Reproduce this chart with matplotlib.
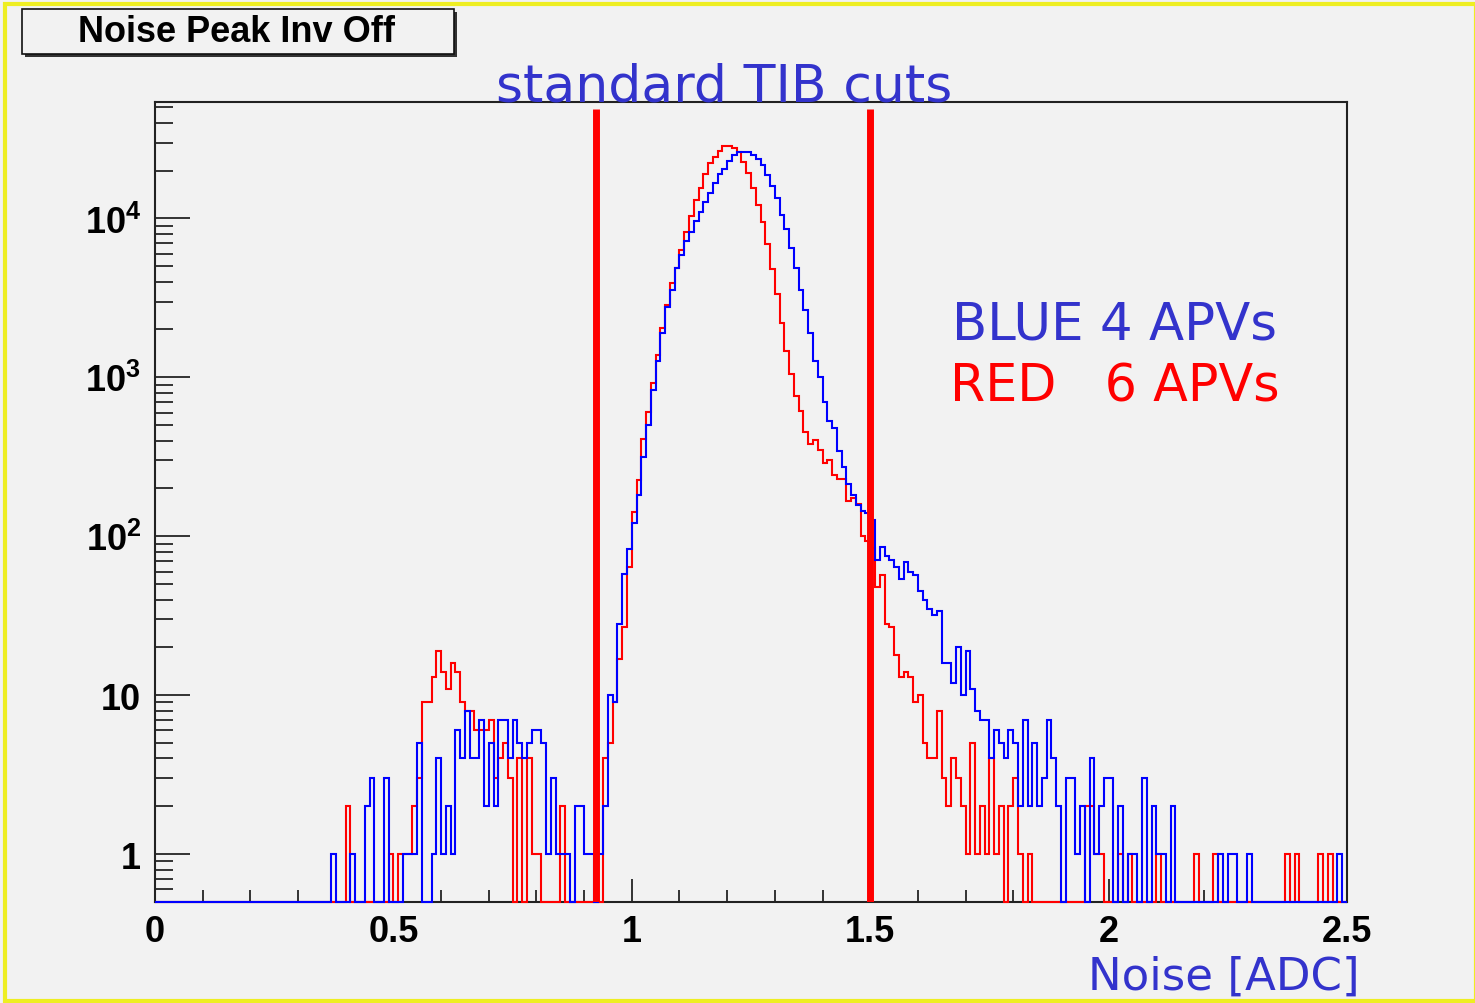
import numpy as np
import matplotlib
matplotlib.use('Agg')
import matplotlib.pyplot as plt
from matplotlib.patches import Rectangle
from matplotlib.ticker import FixedLocator, NullFormatter

# 250 bins of 0.01 ADC from 0 to 2.5, counts
blue_counts = [
    0, 0, 0, 0, 0, 0, 0, 0, 0, 0,
    0, 0, 0, 0, 0, 0, 0, 0, 0, 0,
    0, 0, 0, 0, 0, 0, 0, 0, 0, 0,
    0, 0, 0, 0, 0, 0, 0, 1, 0, 0,
    0, 1, 0, 0, 2, 3, 0, 0, 3, 0,
    0, 0, 1, 1, 1, 5, 0, 0, 1, 4,
    1, 2, 1, 6, 4, 8, 4, 4, 7, 2,
    5, 2, 7, 7, 4, 7, 5, 4, 5, 6,
    6, 5, 1, 3, 1, 1, 1, 0, 2, 2,
    1, 1, 0, 1, 2, 10, 9, 28, 58, 83,
    121, 182, 314, 501, 832, 1267, 1892, 2782, 3540, 4850,
    5880, 7200, 8250, 9620, 11000, 12700, 14500, 16800, 18900, 20600,
    22900, 25000, 26300, 26300, 26300, 25200, 23600, 21600, 18700, 16000,
    13500, 10500, 8530, 6480, 4900, 3570, 2660, 1890, 1267, 1005,
    703, 531, 478, 344, 271, 213, 182, 157, 144, 140,
    127, 71, 86, 75, 71, 64, 54, 69, 60, 57,
    45, 40, 35, 32, 34, 16, 16, 12, 20, 10,
    19, 11, 8, 7, 7, 4, 6, 5, 4, 6,
    5, 2, 7, 2, 5, 2, 3, 7, 4, 2,
    0, 3, 3, 1, 2, 0, 4, 1, 2, 3,
    3, 0, 2, 0, 1, 1, 0, 3, 0, 2,
    1, 1, 0, 2, 0, 0, 0, 0, 0, 0,
    0, 0, 0, 1, 0, 1, 1, 0, 0, 1,
    0, 0, 0, 0, 0, 0, 0, 0, 0, 0,
    0, 0, 0, 0, 0, 0, 0, 0, 1, 0,
]

red_counts = [
    0, 0, 0, 0, 0, 0, 0, 0, 0, 0,
    0, 0, 0, 0, 0, 0, 0, 0, 0, 0,
    0, 0, 0, 0, 0, 0, 0, 0, 0, 0,
    0, 0, 0, 0, 0, 0, 0, 0, 0, 0,
    2, 0, 0, 0, 0, 0, 0, 0, 0, 1,
    0, 1, 1, 1, 2, 3, 9, 9, 13, 19,
    14, 11, 16, 14, 9, 8, 8, 6, 6, 6,
    7, 3, 4, 5, 3, 0, 4, 0, 4, 1,
    1, 0, 0, 0, 0, 2, 0, 0, 0, 0,
    0, 0, 0, 0, 4, 5, 9, 17, 27, 64,
    143, 226, 407, 609, 917, 1380, 2030, 2850, 3900, 4900,
    6310, 8250, 10350, 13000, 15600, 18900, 22200, 24400, 26500, 28500,
    28500, 27800, 26000, 22700, 19200, 15600, 12100, 9440, 6900, 4800,
    3340, 2190, 1460, 1045, 763, 614, 455, 379, 402, 349,
    288, 301, 243, 229, 229, 167, 175, 159, 101, 94,
    84, 48, 57, 28, 27, 18, 13, 14, 13, 9,
    10, 5, 4, 4, 8, 3, 2, 4, 3, 2,
    1, 5, 1, 2, 1, 4, 1, 2, 0, 2,
    3, 1, 0, 1, 0, 0, 0, 0, 0, 0,
    0, 0, 0, 0, 0, 2, 2, 1, 1, 0,
    0, 0, 1, 0, 1, 0, 0, 0, 0, 0,
    1, 0, 0, 0, 0, 0, 0, 0, 1, 0,
    0, 0, 1, 0, 0, 0, 0, 0, 0, 0,
    0, 0, 0, 0, 0, 0, 0, 1, 0, 1,
    0, 0, 0, 0, 1, 0, 1, 0, 0, 0,
]

cut_values = [0.925, 1.5]
x_ticks = [0, 0.5, 1, 1.5, 2, 2.5]
x_tick_labels = ['0', '0.5', '1', '1.5', '2', '2.5']
y_ticks = [1, 10, 100, 1000, 10000]
y_tick_labels = ['1', '10', r'$\mathbf{10^{2}}$', r'$\mathbf{10^{3}}$', r'$\mathbf{10^{4}}$']

plt.rcParams['font.family'] = ['Liberation Sans', 'DejaVu Sans']
plt.rcParams['mathtext.fontset'] = 'custom'
plt.rcParams['mathtext.bf'] = 'Liberation Sans:bold'
plt.rcParams['mathtext.rm'] = 'Liberation Sans'

W, H = 1475, 1004
bg = '#f2f2f2'
fig = plt.figure(figsize=(W / 100, H / 100), dpi=100, facecolor=bg)
ax = fig.add_axes([155 / W, 1 - 903 / H, (1347 - 155) / W, (903 - 103) / H])
ax.set_facecolor(bg)

ymin, ymax = 0.5, 54000
edges = np.linspace(0, 2.5, len(blue_counts) + 1)
red = np.array(red_counts, dtype=float)
blue = np.array(blue_counts, dtype=float)
red[red == 0] = ymin
blue[blue == 0] = ymin

ax.set_yscale('log')
ax.set_xlim(0, 2.5)
ax.set_ylim(ymin, ymax)

ax.stairs(red, edges, baseline=ymin, color='#ff0000', lw=1.5, clip_on=False, zorder=3)
ax.stairs(blue, edges, baseline=ymin, color='#0000ff', lw=1.5, clip_on=False, zorder=4)

# the two cut lines
ax.vlines(cut_values, ymin, 49000, color='#ff0000', lw=5, zorder=5)

# axes like ROOT
for s in ax.spines.values():
    s.set_linewidth(1.5)
    s.set_color('#222222')
ax.xaxis.set_major_locator(FixedLocator(x_ticks))
ax.xaxis.set_minor_locator(FixedLocator(np.arange(0, 2.51, 0.1)))
ax.set_xticklabels(x_tick_labels)
ax.yaxis.set_major_locator(FixedLocator(y_ticks))
minor_y = [m * 10.0 ** e for e in range(-1, 5) for m in range(2, 10)]
ax.yaxis.set_minor_locator(FixedLocator([v for v in minor_y if ymin < v < ymax]))
ax.yaxis.set_minor_formatter(NullFormatter())
ax.set_yticklabels(y_tick_labels)
ax.tick_params(axis='x', which='major', direction='in', length=16.5, width=1.1,
               labelsize=26, pad=9, top=False)
ax.tick_params(axis='x', which='minor', direction='in', length=8.6, width=1.1, top=False)
ax.tick_params(axis='y', which='major', direction='in', length=25, width=1.1,
               labelsize=26, pad=10, right=False)
ax.tick_params(axis='y', which='minor', direction='in', length=13, width=1.1, right=False)
for lab in ax.get_xticklabels() + ax.get_yticklabels():
    lab.set_fontweight('bold')

# title box with shadow
fig.patches.append(Rectangle((25 / W, 1 - 58 / H), 432 / W, 45 / H, transform=fig.transFigure,
                             facecolor='#333333', edgecolor='none', zorder=1))
fig.patches.append(Rectangle((22 / W, 1 - 55 / H), 432 / W, 45 / H, transform=fig.transFigure,
                             facecolor=bg, edgecolor='#111111', lw=1.2, zorder=2))
fig.text(236 / W, 1 - 33 / H, 'Noise Peak Inv Off', ha='center', va='center',
         fontsize=26, fontweight='bold', zorder=3)

# annotations
txt_blue = '#3333cc'
fig.text(724 / W, 1 - 102 / H, 'standard TIB cuts', ha='center', va='baseline',
         fontsize=37.5, color=txt_blue, family='DejaVu Sans')
fig.text(952 / W, 1 - 340 / H, 'BLUE 4 APVs', ha='left', va='baseline',
         fontsize=37, color=txt_blue, family='DejaVu Sans')
fig.text(950 / W, 1 - 402 / H, 'RED   6 APVs', ha='left', va='baseline',
         fontsize=36.5, color='#ff0000', family='DejaVu Sans')
fig.text(1360 / W, 1 - 990 / H, 'Noise [ADC]', ha='right', va='baseline',
         fontsize=32.5, color=txt_blue, family='DejaVu Sans')

# yellow slide border
fig.patches.append(Rectangle((5 / W, 2 / H), (W - 4) / W, (H - 7) / H, transform=fig.transFigure,
                             facecolor='none', edgecolor='#eeee22', lw=3, zorder=0))

fig.savefig('out.png', dpi=100, facecolor=bg)
